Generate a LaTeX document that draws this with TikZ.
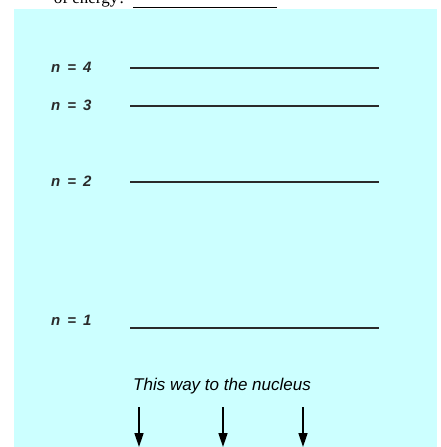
\documentclass[tikz,border=0pt]{standalone}
\usepackage{fontspec}
\setmainfont{Liberation Serif}
\newfontfamily\levelfont{Liberation Sans}
\usetikzlibrary{positioning, arrows.meta}
\definecolor{panelcyan}{rgb}{0.8,1,1}
\definecolor{lineink}{RGB}{42,42,42}

\begin{document}
\begin{tikzpicture}[
    x=1pt,
    y=-1pt,
    >={Triangle[length=14pt, width=9pt]},
    levelline/.style={
        draw=lineink,
        line width=1.8pt
    },
    levellabel/.style={
        font=\levelfont\itshape\bfseries\fontsize{15}{15}\selectfont,
        text=lineink,
        anchor=base west,
        inner sep=0pt
    },
    waytext/.style={
        font=\levelfont\itshape\fontsize{17}{18}\selectfont,
        anchor=base,
        inner sep=0pt
    },
    downarrow/.style={
        ->,
        line width=1.6pt
    }
]
    \useasboundingbox (0,0) rectangle (441,447);

    % panel
    \coordinate (panelNW) at (14,9);
    \coordinate (panelSE) at (437,447);
    \fill[panelcyan] (panelNW) rectangle (panelSE);

    % question line, cut off at the top
    \begin{scope}
        \clip (0,0) rectangle (441,447);
        \node[anchor=base east, inner sep=0pt, font=\fontsize{17}{17}\selectfont] (question) at (126,3) {of energy?};
    \end{scope}
    \coordinate (blankL) at (133,7.5);
    \coordinate (blankR) at (277,7.5);
    \draw[line width=0.9pt] (blankL) -- (blankR);

    % energy levels
    \node[levellabel] (n4) at (51,72) {n\hspace{7pt}=\hspace{7pt}4};
    \node[levellabel] (n3) at (51,110) {n\hspace{7pt}=\hspace{7pt}3};
    \node[levellabel] (n2) at (51,186) {n\hspace{7pt}=\hspace{7pt}2};
    \node[levellabel] (n1) at (51,325) {n\hspace{7pt}=\hspace{7pt}1};

    \coordinate (l4a) at (130,68);
    \coordinate (l4b) at (379,68);
    \coordinate (l3a) at (130,106);
    \coordinate (l3b) at (379,106);
    \coordinate (l2a) at (130,182);
    \coordinate (l2b) at (379,182);
    \coordinate (l1a) at (130,328);
    \coordinate (l1b) at (379,328);

    \draw[levelline] (l4a) -- (l4b);
    \draw[levelline] (l3a) -- (l3b);
    \draw[levelline] (l2a) -- (l2b);
    \draw[levelline] (l1a) -- (l1b);

    % towards the nucleus
    \node[waytext] (way) at (222,390) {This way to the nucleus};

    \coordinate (a1top) at (139,407);
    \coordinate (a1end) at (139,447);
    \coordinate (a2top) at (223,407);
    \coordinate (a2end) at (223,447);
    \coordinate (a3top) at (303,407);
    \coordinate (a3end) at (303,447);

    \draw[downarrow] (a1top) -- (a1end);
    \draw[downarrow] (a2top) -- (a2end);
    \draw[downarrow] (a3top) -- (a3end);
\end{tikzpicture}
\end{document}
